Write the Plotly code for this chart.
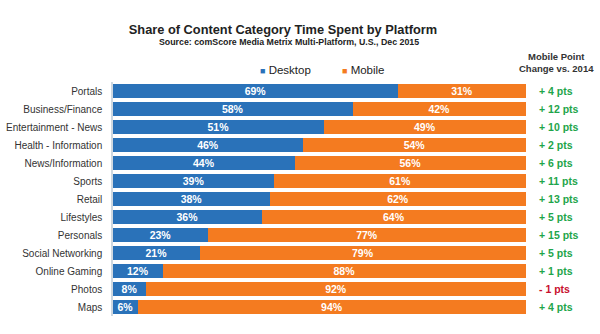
import plotly.graph_objects as go

categories = ["Portals", "Business/Finance", "Entertainment - News", "Health - Information",
              "News/Information", "Sports", "Retail", "Lifestyles", "Personals",
              "Social Networking", "Online Gaming", "Photos", "Maps"]
desktop = [69, 58, 51, 46, 44, 39, 38, 36, 23, 21, 12, 8, 6]
mobile = [31, 42, 49, 54, 56, 61, 62, 64, 77, 79, 88, 92, 94]
point_change = [4, 12, 10, 2, 6, 11, 13, 5, 15, 5, 1, -1, 4]

BLUE = "#2a72b9"
ORANGE = "#f47b20"
FONT = "Liberation Sans, Arial, sans-serif"
PLOT_L, PLOT_W = 113, 413
PLOT_TOP, PLOT_H = 82, 234

def paper_x(px):
    return (px - PLOT_L) / PLOT_W

def paper_y(px):
    return 1 + (PLOT_TOP - px) / PLOT_H

fig = go.Figure()
fig.add_trace(go.Bar(
    y=categories, x=desktop, orientation="h", name="Desktop",
    marker=dict(color=BLUE, line=dict(width=0)),
    text=[f"<b>{v}%</b>" for v in desktop], textposition="inside",
    insidetextanchor="middle", constraintext="none",
    textfont=dict(color="white", size=10.5, family=FONT), showlegend=False,
))
fig.add_trace(go.Bar(
    y=categories, x=mobile, orientation="h", name="Mobile",
    marker=dict(color=ORANGE, line=dict(width=0)),
    text=[f"<b>{v}%</b>" for v in mobile], textposition="inside",
    insidetextanchor="middle", constraintext="none",
    textfont=dict(color="white", size=10.5, family=FONT), showlegend=False,
))

for cat, pc in zip(categories, point_change):
    sign = "+" if pc >= 0 else "-"
    fig.add_annotation(
        x=paper_x(537), y=cat, xref="paper", yref="y", xanchor="left", yanchor="middle",
        text=f"<b>{sign} {abs(pc)} pts</b>", showarrow=False,
        font=dict(size=10.5, color="#1ea54b" if pc >= 0 else "#c8102e", family=FONT),
    )

fig.add_annotation(
    x=paper_x(556), y=paper_y(62), xref="paper", yref="paper", xanchor="center",
    yanchor="middle", text="<b>Mobile Point<br>Change vs. 2014</b>", showarrow=False,
    font=dict(size=9.5, color="#333", family=FONT),
)
fig.add_annotation(
    x=paper_x(289), y=paper_y(42), xref="paper", yref="paper", xanchor="center",
    yanchor="middle", showarrow=False,
    text="<b>Source: comScore Media Metrix Multi-Platform, U.S., Dec 2015</b>",
    font=dict(size=8.8, color="#222", family=FONT),
)
# legend as text
for label, color, px in [("Desktop", BLUE, 258), ("Mobile", ORANGE, 340)]:
    fig.add_annotation(
        x=paper_x(px), y=paper_y(70), xref="paper", yref="paper", xanchor="left",
        yanchor="middle", showarrow=False,
        text=f"<span style='color:{color};font-size:9px'>■</span> {label}",
        font=dict(size=11.5, color="#222", family=FONT),
    )

fig.update_layout(
    width=600, height=334,
    barmode="stack", bargap=0.25,
    margin=dict(l=PLOT_L, r=600 - PLOT_L - PLOT_W, t=PLOT_TOP, b=334 - PLOT_TOP - PLOT_H),
    paper_bgcolor="white", plot_bgcolor="white",
    font=dict(family=FONT, color="#333"),
    title=dict(text="<b>Share of Content Category Time Spent by Platform</b>",
               x=283 / 600, xanchor="center", y=1 - 30 / 334, yanchor="middle",
               font=dict(size=12.8, color="#222")),
    showlegend=False,
    xaxis=dict(range=[0, 100], visible=False),
    yaxis=dict(autorange="reversed", showline=True, linecolor="#cfd8e0", linewidth=1.5,
               tickfont=dict(size=10, color="#333"), ticklabelstandoff=7,
               showgrid=False, ticks="", automargin=False),
)

fig.write_html("out.html")
